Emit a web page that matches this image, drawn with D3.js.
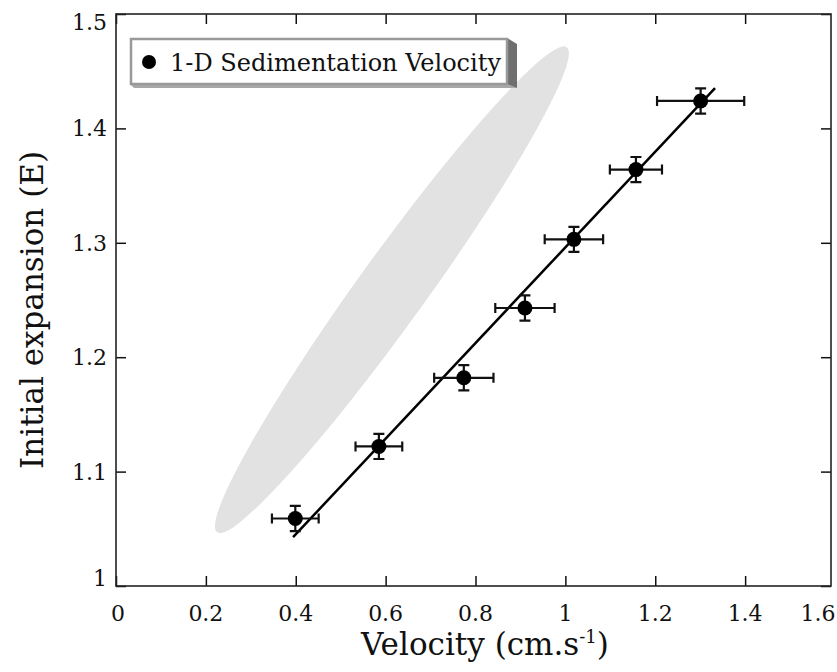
<!DOCTYPE html>
<html>
<head>
<meta charset="utf-8">
<script src="https://cdn.jsdelivr.net/npm/d3@7"></script>
<style>
  html, body { margin: 0; padding: 0; background: #fff; }
  svg text { font-family: 'DejaVu Serif', serif; fill: #111; }
</style>
</head>
<body>
<svg id="chart" width="837" height="672"></svg>
<script>
// measured points
const velocity  = [0.399, 0.585, 0.774, 0.910, 1.019, 1.157, 1.301]
const expansion = [1.059, 1.122, 1.182, 1.243, 1.303, 1.364, 1.424]
const velErr    = [0.052, 0.052, 0.066, 0.066, 0.065, 0.058, 0.097]
const expErr    = [0.011, 0.011, 0.011, 0.011, 0.011, 0.011, 0.011]

// linear fit E = a + b*V
const fitIntercept = 0.878
const fitSlope = 0.418
const fitRange = [0.394, 1.333]

// grey ellipse, given by its two tips
const ellipseTips = [[0.225, 1.047], [1.003, 1.471]]

const xTicks = [0, 0.2, 0.4, 0.6, 0.8, 1, 1.2, 1.4, 1.6]
const yTicks = [1, 1.1, 1.2, 1.3, 1.4, 1.5]
const legendLabel = '1-D Sedimentation Velocity'

const svg = d3.select('#chart')
const plot = {left: 116, right: 831, top: 14, bottom: 586}

// frame stops a little short of 1.6, as in the original
const x = d3.scaleLinear().domain([0, 1.6]).range([plot.left, 835])
const y = d3.scaleLinear().domain([1, 1.5]).range([plot.bottom, plot.top])

// ellipse
const [p0, p1] = ellipseTips.map(d => [x(d[0]), y(d[1])])
const cx = (p0[0] + p1[0]) / 2, cy = (p0[1] + p1[1]) / 2
const rx = Math.hypot(p1[0] - p0[0], p1[1] - p0[1]) / 2
const ang = Math.atan2(p1[1] - p0[1], p1[0] - p0[0]) * 180 / Math.PI
svg.append('ellipse')
    .attr('cx', cx).attr('cy', cy)
    .attr('rx', rx).attr('ry', 34)
    .attr('transform', `rotate(${ang},${cx},${cy})`)
    .attr('fill', '#e2e2e2')

// axes, ticks inward on all four sides
const tickLen = 10
const innerX = xTicks.filter(d => x(d) < plot.right - 2)
const g = svg.append('g')
g.append('g').attr('transform', `translate(0,${plot.bottom})`)
    .call(d3.axisBottom(x).tickValues(innerX).tickSize(-tickLen).tickFormat(''))
g.append('g').attr('transform', `translate(0,${plot.top})`)
    .call(d3.axisTop(x).tickValues(innerX).tickSize(-tickLen).tickFormat(''))
g.append('g').attr('transform', `translate(${plot.left},0)`)
    .call(d3.axisLeft(y).tickValues(yTicks).tickSize(-tickLen).tickFormat(''))
g.append('g').attr('transform', `translate(${plot.right},0)`)
    .call(d3.axisRight(y).tickValues(yTicks).tickSize(-tickLen).tickFormat(''))
g.selectAll('.domain').remove()
g.selectAll('.tick line').attr('stroke', '#111').attr('stroke-width', 1.5)

svg.append('rect')
    .attr('x', plot.left).attr('y', plot.top)
    .attr('width', plot.right - plot.left).attr('height', plot.bottom - plot.top)
    .attr('fill', 'none').attr('stroke', '#222').attr('stroke-width', 1.6)

// tick labels (end labels kept inside like the original)
svg.selectAll('.xlab').data(xTicks).enter().append('text')
    .attr('class', 'xlab')
    .attr('x', d => Math.min(Math.max(x(d), plot.left + 2), plot.right - 13))
    .attr('y', 621)
    .attr('text-anchor', 'middle')
    .style('font-size', '22px')
    .text(d => d)

svg.selectAll('.ylab').data(yTicks).enter().append('text')
    .attr('class', 'ylab')
    .attr('x', 107)
    .attr('y', d => Math.min(Math.max(y(d), plot.top + 8), plot.bottom - 8))
    .attr('dy', '0.36em')
    .attr('text-anchor', 'end')
    .style('font-size', '22px')
    .text(d => d)

// axis titles
const xt = svg.append('text')
    .attr('x', 485).attr('y', 655)
    .attr('text-anchor', 'middle')
    .style('font-size', '31px')
xt.append('tspan').text('Velocity (cm.s')
xt.append('tspan').attr('dy', -12).style('font-size', '18px').text('-1')
xt.append('tspan').attr('dy', 12).text(')')

svg.append('text')
    .attr('transform', 'translate(43,310) rotate(-90)')
    .attr('text-anchor', 'middle')
    .style('font-size', '31px')
    .text('Initial expansion (E)')

// fit line
svg.append('line')
    .attr('x1', x(fitRange[0])).attr('y1', y(fitIntercept + fitSlope * fitRange[0]))
    .attr('x2', x(fitRange[1])).attr('y2', y(fitIntercept + fitSlope * fitRange[1]))
    .attr('stroke', '#000').attr('stroke-width', 2.5)

// error bars and points
const pts = velocity.map((v, i) => ({v, e: expansion[i], dv: velErr[i], de: expErr[i]}))
const eb = svg.append('g').attr('stroke', '#111').attr('stroke-width', 2.2).attr('fill', 'none')
pts.forEach(d => {
    const px = x(d.v), py = y(d.e)
    const xl = x(d.v - d.dv), xr = x(d.v + d.dv)
    const yt = y(d.e + d.de), yb = y(d.e - d.de)
    eb.append('path').attr('d',
        `M${xl},${py}H${xr}M${xl},${py - 5}V${py + 5}M${xr},${py - 5}V${py + 5}` +
        `M${px},${yt}V${yb}M${px - 5.5},${yt}H${px + 5.5}M${px - 5.5},${yb}H${px + 5.5}`)
})
svg.selectAll('.pt').data(pts).enter().append('circle')
    .attr('class', 'pt')
    .attr('cx', d => x(d.v)).attr('cy', d => y(d.e))
    .attr('r', 7.5).attr('fill', '#000')

// legend with 3D box
const lg = svg.append('g')
lg.append('polygon').attr('points', '130,84 507,84 517,88 134,88').attr('fill', '#a8a8a8')
lg.append('polygon').attr('points', '507,38 517,44 517,88 507,84').attr('fill', '#6f6f6f')
lg.append('rect')
    .attr('x', 131).attr('y', 39).attr('width', 376).attr('height', 45)
    .attr('fill', '#fff').attr('stroke', '#999').attr('stroke-width', 2.5)
lg.append('circle').attr('cx', 149).attr('cy', 62).attr('r', 7).attr('fill', '#000')
lg.append('text').attr('x', 170).attr('y', 71)
    .style('font-size', '24px')
    .text(legendLabel)
</script>
</body>
</html>
